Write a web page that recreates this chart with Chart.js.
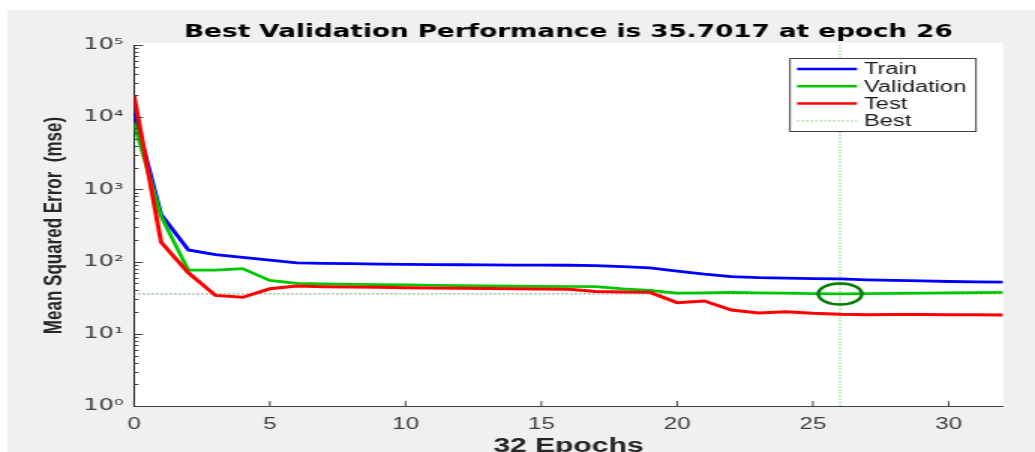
<!DOCTYPE html>
<html>
<head>
<meta charset="utf-8">
<script src="https://cdn.jsdelivr.net/npm/chart.js@4.4.1/dist/chart.umd.min.js"></script>
<style>
html, body { margin: 0; padding: 0; background: #fff; overflow: hidden; }
#wrap { width: 690px; height: 452px; transform: scaleX(1.5); transform-origin: 0 0; }
</style>
</head>
<body>
<div id="wrap"><canvas id="perf" width="690" height="452"></canvas></div>
<script>
// 训练性能数据
const epochs = [0,1,2,3,4,5,6,7,8,9,10,11,12,13,14,15,16,17,18,19,20,21,22,23,24,25,26,27,28,29,30,31,32];
const trainMse = [12000,450,145,125,114,105,96,94.5,93.5,92.5,91.5,91,90.5,90,89.5,89.3,89,88,85,82,74,67,62,60,59,58,57.5,56,55,54,53,52.5,52];
const validMse = [8300,420,76,76,80,55,50,49,48.5,48,47.5,47,46.5,46,45.7,45.4,45.2,45,42,40,36.5,37,37.5,37,36.5,36,35.7017,36,36.3,36.6,36.9,37.2,37.5];
const testMse = [20000,185,70,34,32,42,46,45,44.5,44,43.5,43,42.7,42.4,42.1,41.8,41.5,38.5,38,37.5,27,28.5,21.3,19.4,20.2,19.2,18.6,18.4,18.5,18.5,18.4,18.3,18.2];
const bestEpoch = 26;
const bestMse = 35.7017;
const xTicks = [0,5,10,15,20,25,30];
const yTicks = [1,10,100,1000,10000,100000];
const legendNames = ['Train','Validation','Test','Best'];

const SX = 1.5; // 原图横向被拉伸
const SUP = ['⁰','¹','²','³','⁴','⁵'];

function pts(vals) {
    return vals.map((v, i) => ({x: epochs[i], y: v}));
}

// 最佳点的椭圆标记
function ringMarker() {
    const c = document.createElement('canvas');
    c.width = 34; c.height = 26;
    const g = c.getContext('2d');
    g.strokeStyle = '#007a00';
    g.lineWidth = 2.5;
    g.beginPath();
    g.ellipse(17, 13, 14.5, 10.5, 0, 0, Math.PI * 2);
    g.stroke();
    return c;
}

// 灰色背景 + 白色绘图区
const backdrop = {
    id: 'backdrop',
    beforeDraw(chart) {
        const {ctx, chartArea: a} = chart;
        ctx.save();
        ctx.fillStyle = '#f0f0f0';
        ctx.fillRect(7 / SX, 10, chart.width, chart.height);
        ctx.fillStyle = '#fff';
        ctx.fillRect(a.left, a.top - 2, a.right - a.left, a.bottom - a.top + 2);
        ctx.restore();
    }
};

// MATLAB 风格的内向刻度
const innerTicks = {
    id: 'innerTicks',
    afterDraw(chart) {
        const {ctx, chartArea: a, scales: {x, y}} = chart;
        ctx.save();
        ctx.strokeStyle = '#404040';
        ctx.lineWidth = 1;
        ctx.beginPath();
        xTicks.forEach(t => {
            const px = x.getPixelForValue(t);
            ctx.moveTo(px, a.bottom);
            ctx.lineTo(px, a.bottom - 5);
        });
        for (let k = 0; k < 5; k++) {
            for (let m = 1; m <= 9; m++) {
                const py = Math.round(y.getPixelForValue(m * Math.pow(10, k))) + 0.5;
                ctx.moveTo(a.left, py);
                ctx.lineTo(a.left + (m === 1 ? 6 : 3), py);
            }
        }
        const top = Math.round(y.getPixelForValue(yTicks[yTicks.length - 1])) + 0.5;
        ctx.moveTo(a.left, top);
        ctx.lineTo(a.left + 6, top);
        ctx.stroke();
        ctx.restore();
    }
};

// 图例 (放在绘图区右上角)
const boxLegend = {
    id: 'boxLegend',
    afterDraw(chart) {
        const {ctx, chartArea: a} = chart;
        const right = a.right - 18, left = right - 124, top = a.top + 13, h = 73, rowH = 17.3;
        ctx.save();
        ctx.fillStyle = '#fff';
        ctx.fillRect(left, top, right - left, h);
        ctx.strokeStyle = '#404040';
        ctx.lineWidth = 1;
        ctx.strokeRect(left, top + 0.5, right - left, h);
        ctx.font = '15.8px "Liberation Sans", Arial, sans-serif';
        ctx.textBaseline = 'middle';
        legendNames.forEach((name, i) => {
            const ds = chart.data.datasets.find(d => d.label === name);
            const yy = top + 11 + i * rowH;
            ctx.save();
            ctx.strokeStyle = ds.borderColor;
            ctx.lineWidth = name === 'Best' ? 1 : 2.5;
            ctx.setLineDash(ds.borderDash || []);
            ctx.beginPath();
            ctx.moveTo(left + 4.7, yy);
            ctx.lineTo(left + 44.7, yy);
            ctx.stroke();
            ctx.restore();
            ctx.fillStyle = '#1a1a1a';
            ctx.fillText(name, left + 49.3, yy + 1);
        });
        ctx.restore();
    }
};

const ctx = document.getElementById('perf').getContext('2d');
new Chart(ctx, {
    type: 'line',
    data: {
        datasets: [
            {label: 'marker', data: [{x: bestEpoch, y: bestMse}], showLine: false,
             pointStyle: ringMarker(), pointRadius: 10, order: 0},
            {label: 'Test', data: pts(testMse), borderColor: '#ff0000', borderWidth: 3, pointRadius: 0, order: 1},
            {label: 'Validation', data: pts(validMse), borderColor: '#00c800', borderWidth: 2.7, pointRadius: 0, order: 2},
            {label: 'Train', data: pts(trainMse), borderColor: '#0000ff', borderWidth: 2.8, pointRadius: 0, order: 3},
            {label: 'Best', data: [{x: bestEpoch, y: yTicks[0]}, {x: bestEpoch, y: yTicks[yTicks.length - 1]}],
             borderColor: 'rgba(0,170,0,0.55)', borderWidth: 1, borderDash: [1.5, 1.5], pointRadius: 0, order: 4},
            {label: 'bestLevel', data: [{x: epochs[0], y: bestMse}, {x: epochs[epochs.length - 1], y: bestMse}],
             borderColor: '#3b7a3b', borderWidth: 1, borderDash: [1.2, 1.8], pointRadius: 0, order: 5}
        ]
    },
    options: {
        responsive: false,
        animation: false,
        events: [],
        tension: 0,
        layout: {padding: {left: 0, right: 690 - 1003 / SX, top: 10, bottom: 0}},
        plugins: {
            legend: {display: false},
            tooltip: {enabled: false},
            title: {
                display: true,
                fullSize: false,
                text: 'Best Validation Performance is 35.7017 at epoch 26',
                color: '#000',
                font: {family: 'DejaVu Sans', size: 17.5, weight: 'bold'},
                padding: {top: 12, bottom: 2}
            }
        },
        scales: {
            x: {
                type: 'linear', min: 0, max: 32,
                afterBuildTicks: s => { s.ticks = xTicks.map(v => ({value: v})); },
                afterFit: s => { s.height = 46; },
                grid: {display: false, drawTicks: false},
                border: {display: true, color: '#404040', width: 1},
                ticks: {padding: 9, color: '#404040', autoSkip: false, maxRotation: 0,
                        font: {family: 'Liberation Sans', size: 16}},
                title: {display: true, text: '32 Epochs', color: '#262626',
                        font: {family: 'Liberation Sans', size: 20, weight: 'bold', lineHeight: 1},
                        padding: {top: 0, bottom: -4}}
            },
            y: {
                type: 'logarithmic', min: 1, max: 100000,
                afterBuildTicks: s => { s.ticks = yTicks.map(v => ({value: v})); },
                afterFit: s => { s.width = 134 / SX; },
                grid: {display: false, drawTicks: false},
                border: {display: true, color: '#262626', width: 1},
                ticks: {padding: 7, color: '#404040', autoSkip: false,
                        font: {family: 'DejaVu Sans', size: 16},
                        callback: v => '10' + SUP[Math.round(Math.log10(v))]},
                title: {display: true, text: 'Mean Squared Error  (mse)', color: '#262626',
                        font: {family: 'Liberation Sans', size: 17, weight: 'bold'},
                        padding: {top: 26, bottom: 0}}
            }
        }
    },
    plugins: [backdrop, innerTicks, boxLegend]
});
</script>
</body>
</html>
